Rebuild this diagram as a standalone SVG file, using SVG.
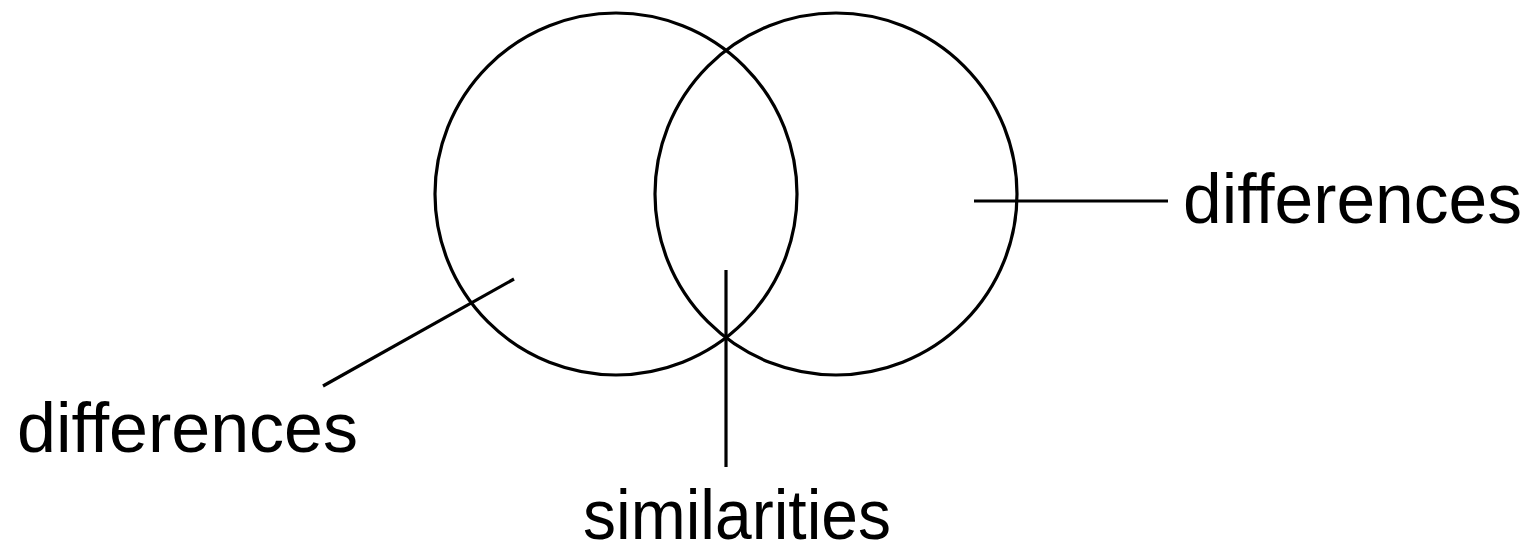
<svg xmlns="http://www.w3.org/2000/svg" width="1536" height="555" viewBox="0 0 1536 555">
<style>
.c{fill:none;stroke:#000;stroke-width:3.2}
.l{fill:none;stroke:#000;stroke-width:3.2}
.t{font-family:"Liberation Sans",Arial,sans-serif;font-size:70px;fill:#000}
</style>
<rect width="1536" height="555" fill="#fff"/>
<g id="left-circle"><ellipse class="c" cx="616" cy="194" rx="181" ry="181"/></g>
<g id="right-circle"><ellipse class="c" cx="836" cy="194" rx="181" ry="181"/></g>
<g id="connectors">
<line class="l" x1="974" y1="201" x2="1168" y2="201"/>
<line class="l" x1="514" y1="279" x2="323" y2="386"/>
<line class="l" x1="726" y1="270" x2="726" y2="467"/>
</g>
<g id="label-right"><text class="t" x="1183" y="223" textLength="339" lengthAdjust="spacingAndGlyphs">differences</text></g>
<g id="label-left"><text class="t" x="17" y="452" textLength="341" lengthAdjust="spacingAndGlyphs">differences</text></g>
<g id="label-middle"><text class="t" x="583" y="539" font-size="62" textLength="308" lengthAdjust="spacingAndGlyphs">similarities</text></g>
</svg>
